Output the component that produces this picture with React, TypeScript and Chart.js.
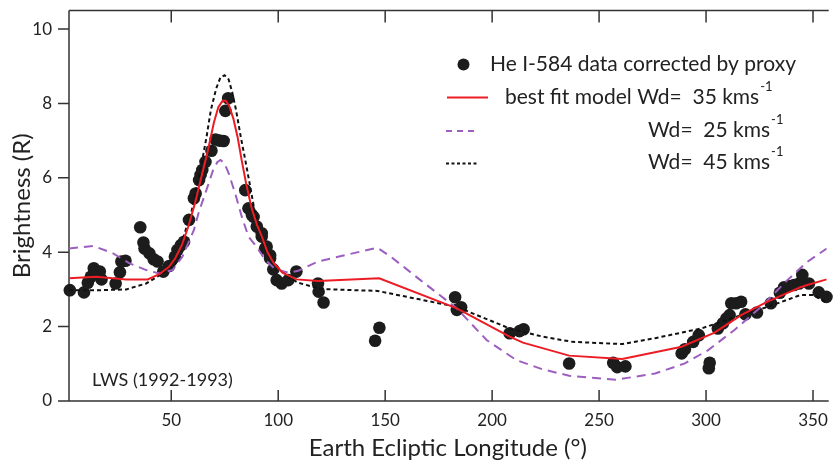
import React, { useEffect, useRef } from "react";
import { Chart, registerables } from "chart.js";

Chart.register(...registerables);

// ---- Data ----
const X_TICKS = [50, 100, 150, 200, 250, 300, 350];
const Y_TICKS = [0, 2, 4, 6, 8, 10];

// He I-584 data corrected by proxy
const DOT_X = [
  2.6, 9.2, 11.0, 12.4, 13.8, 16.6, 17.4, 24.0, 26.0, 26.7, 28.6, 35.5, 37.0, 37.5, 39.8, 41.8, 43.6, 46.3,
  49.0, 51.7, 52.9, 54.5, 56.0, 58.3, 60.6, 61.4, 63.0, 63.7, 64.5, 66.0, 68.8, 70.7, 72.6, 74.5, 75.3, 76.6,
  84.6, 86.1, 87.7, 88.5, 90.0, 92.3, 92.3, 93.9, 94.6, 96.2, 96.2, 97.7, 99.3, 101.6, 104.7, 108.5, 118.6,
  118.9, 121.2, 145.3, 147.3, 182.7, 183.5, 185.5, 208.2, 212.8, 214.7, 236.0, 256.6, 258.5, 262.3, 288.6,
  290.1, 294.0, 296.6, 301.7, 301.3, 305.5, 307.9, 309.5, 311.0, 311.8, 314.1, 316.4, 318.4, 323.8, 330.3,
  334.5, 336.5, 338.8, 341.1, 343.5, 345.0, 348.1, 352.7, 356.3,
];
const DOT_Y = [
  2.98, 2.92, 3.18, 3.34, 3.57, 3.48, 3.27, 3.16, 3.46, 3.75, 3.77, 4.67, 4.26, 4.10, 3.97, 3.81, 3.75, 3.48,
  3.63, 3.88, 4.06, 4.19, 4.28, 4.87, 5.45, 5.58, 5.94, 6.08, 6.21, 6.43, 6.73, 7.03, 7.00, 6.99, 7.80, 8.14,
  5.67, 5.18, 5.00, 4.95, 4.69, 4.51, 4.42, 4.10, 4.15, 3.92, 3.84, 3.54, 3.25, 3.16, 3.25, 3.48, 3.16,
  2.94, 2.65, 1.62, 1.97, 2.79, 2.45, 2.52, 1.82, 1.88, 1.93, 1.01, 1.03, 0.91, 0.93, 1.28,
  1.39, 1.59, 1.77, 1.03, 0.88, 1.95, 2.09, 2.22, 2.31, 2.63, 2.63, 2.67, 2.33, 2.38, 2.63,
  2.91, 3.06, 3.09, 3.12, 3.16, 3.39, 3.16, 2.92, 2.80,
];

// best fit model Wd = 35 km/s
const FIT35_X = [
  2.2, 15, 29, 39, 44.4, 49, 52, 55, 58, 61, 64, 67, 70, 72, 74, 75.5, 77, 79, 81, 83, 85, 87.5, 90, 92.5,
  95, 98, 102, 108.6, 118.6, 147.2, 183.5, 208.2, 214.4, 236, 260.8, 288.6, 304, 316.4, 328.8, 344.2, 347.3,
  356.4,
];
const FIT35_Y = [
  3.30, 3.34, 3.27, 3.27, 3.41, 3.61, 3.85, 4.2, 4.7, 5.3, 6.0, 6.7, 7.5, 7.9, 8.07, 8.07, 7.95, 7.6, 7.1,
  6.45, 5.85, 5.2, 4.75, 4.4, 4.0, 3.7, 3.45, 3.27, 3.23, 3.30, 2.49, 1.73, 1.57, 1.22, 1.13, 1.46, 1.84,
  2.31, 2.67, 3.06, 3.12, 3.27,
];

// Wd = 25 km/s
const FIT25_X = [
  2.2, 13.5, 22.8, 30.5, 38.3, 44.4, 50.6, 55.2, 58, 60.6, 63, 66.9, 69.5, 71.5, 73, 74.8, 77, 80.3, 83, 86.1,
  89.2, 93.9, 98.5, 104.7, 109.3, 118.6, 131, 146.4, 152.6, 166.5, 183.5, 197.4, 211.3, 223.7, 236, 257.7,
  276.2, 290.1, 301, 313.3, 325.7, 338, 347.3, 356.4,
];
const FIT25_Y = [
  4.10, 4.17, 3.97, 3.70, 3.52, 3.43, 3.52, 3.88, 4.25, 4.6, 5.1, 5.75, 6.2, 6.42, 6.48, 6.4, 6.1, 5.5, 4.95,
  4.42, 4.2, 3.8, 3.55, 3.45, 3.5, 3.75, 3.92, 4.12, 3.88, 3.25, 2.49, 1.64, 1.10, 0.85, 0.68, 0.57,
  0.74, 1.01, 1.37, 1.91, 2.53, 3.25, 3.74, 4.10,
];

// Wd = 45 km/s
const FIT45_X = [
  2.2, 16.6, 29, 38.3, 46, 52.2, 55.8, 59.6, 62, 64.5, 66.5, 68.5, 71, 73, 74.9, 76.8, 78.5, 80.3, 82.5, 84.6,
  86.8, 88.9, 92, 95, 98.5, 104.7, 109.3, 120.1, 146.4, 183.5, 208.2, 223.7, 237.6, 260.8, 276.2, 297.8,
  316.4, 328.8, 344.2, 350.4, 356.4,
];
const FIT45_Y = [
  2.98, 2.98, 3.0, 3.16, 3.43, 3.70, 4.42, 5.13, 5.8, 6.48, 7.1, 7.82, 8.4, 8.7, 8.76, 8.65, 8.3, 7.82, 7.1,
  6.48, 5.8, 5.13, 4.42, 3.95, 3.65, 3.34, 3.18, 3.01, 2.96, 2.53, 1.95, 1.73, 1.59, 1.53, 1.69, 1.95,
  2.31, 2.53, 2.85, 2.85, 2.63,
];

const LEGEND_LABELS = [
  "He I-584 data corrected by proxy",
  "best fit model Wd=  35 kms",
  "Wd=  25 kms",
  "Wd=  45 kms",
];
const X_TITLE = "Earth Ecliptic Longitude (°)";
const Y_TITLE = "Brightness (R)";
const NOTE = "LWS (1992-1993)";

const FONT = "Lato, 'DejaVu Sans', sans-serif";
const AXIS_COLOR = "#333333";
const TEXT_COLOR = "#222222";
const RED = "#ec1c24";
const PURPLE = "#9c5fc0";
const DOT = "#1c1c1c";

const pts = (xs: number[], ys: number[]) => xs.map((x, i) => ({ x, y: ys[i] }));

const framePlugin = {
  id: "frame",
  beforeDatasetsDraw(chart: any) {
    const { ctx, chartArea: a, scales } = chart;
    const x = scales.x;
    const y = scales.y;
    ctx.save();
    ctx.strokeStyle = AXIS_COLOR;
    ctx.lineWidth = 1.5;
    ctx.beginPath();
    ctx.moveTo(a.left, a.top);
    ctx.lineTo(a.right + 2, a.top);
    ctx.moveTo(a.left, a.top);
    ctx.lineTo(a.left, a.bottom);
    ctx.moveTo(a.left - 11, a.bottom);
    ctx.lineTo(a.right + 2, a.bottom);
    for (const t of X_TICKS) {
      const px = x.getPixelForValue(t);
      ctx.moveTo(px, a.bottom);
      ctx.lineTo(px, a.bottom - 11);
      ctx.moveTo(px, a.top);
      ctx.lineTo(px, a.top + 12);
    }
    for (const t of Y_TICKS) {
      const py = y.getPixelForValue(t);
      ctx.moveTo(a.left - 11, py);
      ctx.lineTo(a.left, py);
    }
    ctx.stroke();
    ctx.restore();
  },
  afterDraw(chart: any) {
    const { ctx } = chart;
    ctx.save();
    ctx.fillStyle = TEXT_COLOR;
    ctx.textBaseline = "middle";
    ctx.textAlign = "left";
    // note
    ctx.font = `18px ${FONT}`;
    ctx.fillText(NOTE, 92, 380);
    // legend symbols
    ctx.fillStyle = DOT;
    ctx.beginPath();
    ctx.arc(463.5, 64.5, 6, 0, Math.PI * 2);
    ctx.fill();
    ctx.lineWidth = 1.8;
    ctx.strokeStyle = RED;
    ctx.setLineDash([]);
    ctx.beginPath();
    ctx.moveTo(447, 97.5);
    ctx.lineTo(488, 97.5);
    ctx.stroke();
    ctx.strokeStyle = PURPLE;
    ctx.setLineDash([6, 5]);
    ctx.beginPath();
    ctx.moveTo(446, 131);
    ctx.lineTo(477, 131);
    ctx.stroke();
    ctx.strokeStyle = "#111";
    ctx.setLineDash([3, 2.5]);
    ctx.beginPath();
    ctx.moveTo(446, 163.5);
    ctx.lineTo(477, 163.5);
    ctx.stroke();
    ctx.setLineDash([]);
    // legend texts
    ctx.fillStyle = TEXT_COLOR;
    const rows = [
      { t: LEGEND_LABELS[0], x: 490, y: 64, sup: false },
      { t: LEGEND_LABELS[1], x: 505, y: 97, sup: true },
      { t: LEGEND_LABELS[2], x: 648, y: 130, sup: true },
      { t: LEGEND_LABELS[3], x: 648, y: 162, sup: true },
    ];
    for (const r of rows) {
      ctx.font = `21px ${FONT}`;
      ctx.fillText(r.t, r.x, r.y);
      if (r.sup) {
        const w = ctx.measureText(r.t).width;
        ctx.font = `13px ${FONT}`;
        ctx.fillText("-1", r.x + w + 1, r.y - 10);
      }
    }
    ctx.restore();
  },
};

export default function App() {
  const ref = useRef<HTMLCanvasElement>(null);

  useEffect(() => {
    document.body.style.margin = "0";
    const canvas = ref.current!;
    const chart = new Chart(canvas, {
      type: "scatter",
      data: {
        datasets: [
          {
            label: LEGEND_LABELS[1],
            data: pts(FIT35_X, FIT35_Y),
            showLine: true,
            borderColor: RED,
            borderWidth: 2,
            pointRadius: 0,
            tension: 0,
            order: 1,
          },
          {
            label: LEGEND_LABELS[2],
            data: pts(FIT25_X, FIT25_Y),
            showLine: true,
            borderColor: PURPLE,
            borderWidth: 2,
            borderDash: [9, 6],
            pointRadius: 0,
            tension: 0,
            order: 2,
          },
          {
            label: LEGEND_LABELS[3],
            data: pts(FIT45_X, FIT45_Y),
            showLine: true,
            borderColor: "#111111",
            borderWidth: 2,
            borderDash: [4, 3],
            pointRadius: 0,
            tension: 0,
            order: 3,
          },
          {
            label: LEGEND_LABELS[0],
            data: pts(DOT_X, DOT_Y),
            showLine: false,
            backgroundColor: DOT,
            borderColor: DOT,
            borderWidth: 0,
            pointRadius: 6.3,
            clip: false as any,
            order: 10,
          },
        ],
      },
      options: {
        animation: false,
        responsive: false,
        devicePixelRatio: 1,
        layout: { padding: { top: 10.5, right: 0, left: 0, bottom: 0 } },
        plugins: { legend: { display: false }, tooltip: { enabled: false } },
        events: [],
        scales: {
          x: {
            type: "linear",
            min: 2.2,
            max: 356.4,
            grid: { display: false },
            border: { display: false },
            afterBuildTicks: (s: any) => {
              s.ticks = X_TICKS.map((v) => ({ value: v }));
            },
            afterFit: (s: any) => {
              s.height = 66;
              s.paddingLeft = 0;
              s.paddingRight = 0;
            },
            ticks: {
              font: { family: FONT, size: 17 },
              color: TEXT_COLOR,
              padding: 1,
              maxRotation: 0,
              autoSkip: false,
            },
            title: {
              display: true,
              text: X_TITLE,
              font: { family: FONT, size: 24 },
              color: TEXT_COLOR,
              padding: { top: 0, bottom: 4 },
            },
          },
          y: {
            type: "linear",
            min: 0,
            max: 10.5,
            grid: { display: false },
            border: { display: false },
            afterBuildTicks: (s: any) => {
              s.ticks = Y_TICKS.map((v) => ({ value: v }));
            },
            afterFit: (s: any) => {
              s.width = 69;
              s.paddingTop = 0;
              s.paddingBottom = 0;
            },
            ticks: {
              font: { family: FONT, size: 17 },
              color: TEXT_COLOR,
              padding: 9,
              autoSkip: false,
            },
            title: {
              display: true,
              text: Y_TITLE,
              font: { family: FONT, size: 24 },
              color: TEXT_COLOR,
              padding: { top: 8, bottom: 0 },
            },
          },
        },
      },
      plugins: [framePlugin],
    });
    return () => chart.destroy();
  }, []);

  return (
    <div style={{ width: 833, height: 467, position: "relative" }}>
      <canvas ref={ref} width={833} height={467} style={{ display: "block" }} />
    </div>
  );
}
